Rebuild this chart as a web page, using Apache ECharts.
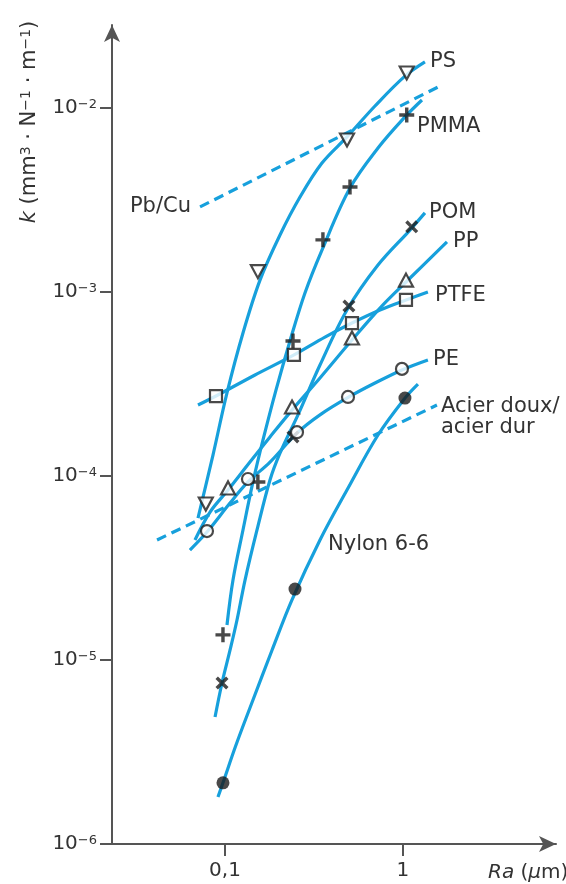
<!DOCTYPE html>
<html><head><meta charset="utf-8">
<script src="https://cdn.jsdelivr.net/npm/echarts@6/dist/echarts.min.js"></script>
<style>html,body{margin:0;padding:0;background:#fff}#c{width:566px;height:884px}</style>
</head><body><div id="c"></div>
<script>
// ---- axis ticks ----
const xTickValues = [0.1, 1];
const xTickLabels = ['0,1', '1'];
const yTickValues = [1e-6, 1e-5, 1e-4, 1e-3, 1e-2];
const yTickExponents = ['−6', '−5', '−4', '−3', '−2'];

// ---- PS (inverted triangles) ----
const psRa = [0.078, 0.153, 0.485, 1.05];
const psK = [7.04e-5, 1.29e-3, 6.70e-3, 1.55e-2];
const psCurveRa = [0.0705, 0.0856, 0.1026, 0.1262, 0.1573, 0.2037, 0.2639, 0.3507, 0.4846, 0.6963, 1.026, 1.329];
const psCurveK = [5.91e-5, 1.30e-4, 2.83e-4, 5.99e-4, 1.16e-3, 2.04e-3, 3.28e-3, 5.02e-3, 6.96e-3, 1.025e-2, 1.49e-2, 1.78e-2];

// ---- PMMA (plus) ----
const pmmaRa = [0.0974, 0.153, 0.241, 0.355, 0.504, 1.05];
const pmmaK = [1.37e-5, 9.28e-5, 5.42e-4, 1.92e-3, 3.72e-3, 9.16e-3];
const pmmaCurveRa = [0.1026, 0.1109, 0.1262, 0.1436, 0.1635, 0.1934, 0.2318, 0.2814, 0.3507, 0.5037, 0.7239, 1.026, 1.279];
const pmmaCurveK = [1.55e-5, 2.72e-5, 5.09e-5, 9.28e-5, 1.57e-4, 2.93e-4, 5.42e-4, 9.88e-4, 1.69e-3, 3.67e-3, 6.06e-3, 8.94e-3, 1.105e-2];

// ---- POM (cross) ----
const pomRa = [0.0962, 0.241, 0.497, 1.12];
const pomK = [7.50e-6, 1.63e-4, 8.39e-4, 2.26e-3];
const pomCurveRa = [0.0879, 0.0962, 0.1067, 0.1168, 0.1296, 0.1513, 0.1790, 0.2037, 0.2571, 0.3418, 0.4846, 0.7239, 1.095, 1.329];
const pomCurveK = [4.90e-6, 7.50e-6, 1.13e-5, 1.65e-5, 2.72e-5, 5.09e-5, 9.51e-5, 1.33e-4, 2.15e-4, 4.01e-4, 7.98e-4, 1.40e-3, 2.17e-3, 2.69e-3];

// ---- PP (triangles) ----
const ppRa = [0.104, 0.238, 0.517, 1.04];
const ppK = [8.61e-5, 2.37e-4, 5.62e-4, 1.16e-3];
const ppCurveRa = [0.0678, 0.0824, 0.1040, 0.1381, 0.1790, 0.2379, 0.3418, 0.5169, 0.7430, 1.040, 1.767];
const ppCurveK = [4.49e-5, 6.37e-5, 8.39e-5, 1.19e-4, 1.63e-4, 2.28e-4, 3.41e-4, 5.48e-4, 8.18e-4, 1.133e-3, 1.87e-3];

// ---- PTFE (squares) ----
const ptfeRa = [0.089, 0.244, 0.517, 1.04];
const ptfeK = [2.72e-4, 4.55e-4, 6.78e-4, 9.05e-4];
const ptfeCurveRa = [0.0705, 0.0890, 0.1474, 0.2441, 0.3646, 0.5169, 0.7430, 1.040, 1.381];
const ptfeCurveK = [2.43e-4, 2.72e-4, 3.54e-4, 4.55e-4, 5.69e-4, 6.78e-4, 7.98e-4, 9.05e-4, 1.00e-3];

// ---- PE (circles) ----
const peRa = [0.0792, 0.1346, 0.2538, 0.491, 0.9872];
const peK = [5.02e-5, 9.63e-5, 1.73e-4, 2.69e-4, 3.82e-4];
const peCurveRa = [0.0635, 0.0792, 0.1067, 0.1346, 0.1790, 0.2538, 0.3418, 0.4972, 0.6963, 0.9872, 1.381];
const peCurveK = [3.96e-5, 4.96e-5, 7.13e-5, 9.28e-5, 1.19e-4, 1.71e-4, 2.15e-4, 2.69e-4, 3.20e-4, 3.77e-4, 4.27e-4];

// ---- Nylon 6-6 (filled circles) ----
const nylonRa = [0.0974, 0.2474, 1.026];
const nylonK = [2.15e-6, 2.43e-5, 2.65e-4];
const nylonCurveRa = [0.0913, 0.0974, 0.1153, 0.1436, 0.1837, 0.2379, 0.3418, 0.4846, 0.7239, 1.026, 1.214];
const nylonCurveK = [1.80e-6, 2.15e-6, 3.45e-6, 6.06e-6, 1.13e-5, 2.12e-5, 4.49e-5, 8.39e-5, 1.67e-4, 2.65e-4, 3.16e-4];

// ---- metal pairs (dashed) ----
const pbCuRa = [0.0724, 1.573];
const pbCuK = [2.90e-3, 1.30e-2];
const acierRa = [0.0415, 1.552];
const acierK = [4.49e-5, 2.43e-4];

const zip = (a, b) => a.map((v, i) => [v, b[i]]);

const BLUE = '#17a0dc';
const INK = '#1c1c1c';
const TXT = '#333';
const FONT = 'DejaVu Sans';
const PLUS = 'path://M5.4,0H8.6V5.4H14V8.6H8.6V14H5.4V8.6H0V5.4H5.4Z';

function curve(ra, k, dashed) {
  return {
    type: 'line', data: zip(ra, k), smooth: dashed ? false : 0.35, showSymbol: false,
    symbol: 'none', z: 2, silent: true,
    lineStyle: { color: BLUE, width: 3.2, type: dashed ? [10, 6] : 'solid', cap: 'butt' }
  };
}
function markers(ra, k, symbol, size, opts) {
  opts = opts || {};
  return {
    type: 'scatter', data: zip(ra, k), symbol: symbol, symbolSize: size, z: 5, silent: true,
    symbolRotate: opts.rotate || 0,
    itemStyle: opts.filled
      ? { color: INK, borderWidth: 0 }
      : { color: '#fff', borderColor: INK, borderWidth: 2.2 }
  };
}

const chart = echarts.init(document.getElementById('c'), null, { renderer: 'canvas' });

function label(text, x, y, align) {
  return { type: 'text', x: x, y: y, z: 10,
    style: { text: text, fontSize: 21, fontFamily: FONT, fill: TXT, align: align || 'left', verticalAlign: 'middle' } };
}

chart.setOption({
  animation: false,
  backgroundColor: '#fff',
  grid: { left: 112, right: 10, top: 25, bottom: 40, outerBoundsMode: 'none', containLabel: false },
  xAxis: {
    type: 'log', logBase: 10,
    min: Math.pow(10, -1.635), max: Math.pow(10, 0.86),
    axisLine: { show: true, symbol: ['none', 'arrow'], symbolSize: [12, 17], lineStyle: { color: '#555', width: 2 } },
    axisTick: { show: true, length: 12, lineStyle: { color: '#555', width: 2 } },
    minorTick: { show: false }, splitLine: { show: false },
    axisLabel: {
      margin: 17, color: TXT, fontSize: 20, fontFamily: FONT, showMinLabel: false, showMaxLabel: false,
      formatter: function (v) {
        for (let i = 0; i < xTickValues.length; i++) {
          if (Math.abs(Math.log10(v) - Math.log10(xTickValues[i])) < 1e-6) return xTickLabels[i];
        }
        return '';
      }
    }
  },
  yAxis: {
    type: 'log', logBase: 10,
    min: 1e-6, max: Math.pow(10, -1.549),
    axisLine: { show: true, symbol: ['none', 'arrow'], symbolSize: [12, 17], lineStyle: { color: '#555', width: 2 } },
    axisTick: { show: true, length: 12, lineStyle: { color: '#555', width: 2 } },
    minorTick: { show: false }, splitLine: { show: false },
    axisLabel: {
      margin: 15, color: TXT, showMaxLabel: false,
      formatter: function (v) {
        for (let i = 0; i < yTickValues.length; i++) {
          if (Math.abs(Math.log10(v) - Math.log10(yTickValues[i])) < 1e-6) return '{b|10}{s|' + yTickExponents[i] + '}';
        }
        return '';
      },
      rich: {
        b: { fontSize: 20, fontFamily: FONT, color: TXT, lineHeight: 20 },
        s: { fontSize: 13, fontFamily: FONT, color: TXT, verticalAlign: 'top', lineHeight: 13 }
      }
    }
  },
  series: [
    curve(pbCuRa, pbCuK, true),
    curve(acierRa, acierK, true),
    curve(psCurveRa, psCurveK),
    curve(pmmaCurveRa, pmmaCurveK),
    curve(pomCurveRa, pomCurveK),
    curve(ppCurveRa, ppCurveK),
    curve(ptfeCurveRa, ptfeCurveK),
    curve(peCurveRa, peCurveK),
    curve(nylonCurveRa, nylonCurveK),
    markers(psRa, psK, 'triangle', [14, 13], { rotate: 180 }),
    markers(pmmaRa, pmmaK, PLUS, 15, { filled: true }),
    markers(pomRa, pomK, PLUS, 15, { filled: true, rotate: 45 }),
    markers(ppRa, ppK, 'triangle', [14, 13]),
    markers(ptfeRa, ptfeK, 'rect', 12),
    markers(peRa, peK, 'circle', 12),
    markers(nylonRa, nylonK, 'circle', 13, { filled: true })
  ],
  graphic: [
    label('PS', 430, 62),
    label('PMMA', 417, 127),
    label('POM', 429, 213),
    label('PP', 453, 242),
    label('PTFE', 435, 296),
    label('PE', 433, 360),
    label('Acier doux/', 441, 407),
    label('acier dur', 441, 428),
    label('Nylon 6-6', 328, 545),
    label('Pb/Cu', 191, 207, 'right'),
    { type: 'text', x: 30, y: 122, rotation: Math.PI / 2, z: 10,
      style: { text: '{i|k} (mm{s|3} · N{s|−1} · m{s|−1})', align: 'center', verticalAlign: 'middle',
        fontSize: 21, fontFamily: FONT, fill: TXT,
        rich: { i: { fontStyle: 'italic', fontSize: 21, fontFamily: FONT, fill: TXT },
                s: { fontSize: 14, fontFamily: FONT, fill: TXT, verticalAlign: 'top' } } } },
    { type: 'text', x: 488, y: 873, z: 10,
      style: { text: '{i|Ra} ({i|μ}m)', align: 'left', verticalAlign: 'middle', fontSize: 20, fontFamily: FONT, fill: TXT,
        rich: { i: { fontStyle: 'italic', fontSize: 20, fontFamily: FONT, fill: TXT } } } }
  ]
});
</script></body></html>
